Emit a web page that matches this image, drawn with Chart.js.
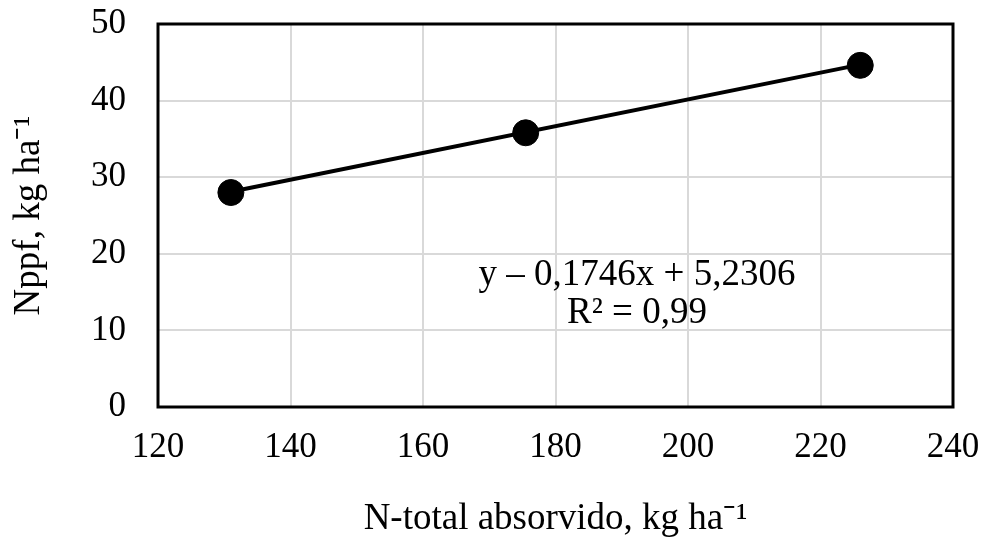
<!DOCTYPE html>
<html>
<head>
<meta charset="utf-8">
<script src="https://cdn.jsdelivr.net/npm/chart.js@4"></script>
<style>
  body { margin: 0; background: #fff; }
  #wrap { width: 985px; height: 543px; }
</style>
</head>
<body>
<div id="wrap"><canvas id="grafico"></canvas></div>
<script>
// dados
const nTotal = [131, 175.5, 226];
const nppf = [28, 35.8, 44.6];
const trendX = [131, 226];
const trendY = [28.1, 44.7];
const xTicks = [120, 140, 160, 180, 200, 220, 240];
const yTicks = [0, 10, 20, 30, 40, 50];
const equacao = ['y \u2013 0,1746x + 5,2306', 'R\u00b2 = 0,99'];

const serif = '"Liberation Serif", "Times New Roman", serif';

const moldura = {
    id: 'moldura',
    afterDatasetsDraw(chart) {
        const a = chart.chartArea;
        const ctx = chart.ctx;
        ctx.save();
        ctx.strokeStyle = '#000';
        ctx.lineWidth = 3;
        ctx.strokeRect(a.left, a.top, a.right - a.left, a.bottom - a.top);
        // equacao da reta
        const x = chart.scales.x.getPixelForValue(192.3);
        ctx.fillStyle = '#000';
        ctx.font = '37px ' + serif;
        ctx.textAlign = 'center';
        ctx.textBaseline = 'middle';
        ctx.fillText(equacao[0], x, chart.scales.y.getPixelForValue(17.2));
        ctx.fillText(equacao[1], x, chart.scales.y.getPixelForValue(12.3));
        ctx.restore();
    }
};

document.addEventListener("DOMContentLoaded", function() {
    const ctx = document.getElementById('grafico').getContext('2d');
    new Chart(ctx, {
        type: 'scatter',
        data: {
            datasets: [{
                label: 'Tendencia',
                data: trendX.map((x, i) => ({x: x, y: trendY[i]})),
                showLine: true,
                borderColor: '#000',
                borderWidth: 4,
                pointRadius: 0,
                order: 2
            }, {
                label: 'Nppf',
                data: nTotal.map((x, i) => ({x: x, y: nppf[i]})),
                backgroundColor: '#000',
                borderColor: '#000',
                pointRadius: 13,
                order: 1
            }]
        },
        options: {
            responsive: true,
            maintainAspectRatio: false,
            animation: false,
            layout: { padding: { top: 24, right: 32, left: 0, bottom: 0 } },
            plugins: {
                legend: { display: false },
                tooltip: { enabled: false }
            },
            scales: {
                x: {
                    type: 'linear',
                    min: 120,
                    max: 240,
                    afterBuildTicks: s => { s.ticks = xTicks.map(v => ({value: v})); },
                    afterFit: s => { s.height = 136; s.paddingLeft = 0; s.paddingRight = 0; },
                    grid: { color: '#d9d9d9', lineWidth: 2, drawTicks: false },
                    border: { display: false },
                    ticks: { color: '#000', padding: 20, font: { family: serif, size: 35 } },
                    title: {
                        display: true,
                        text: 'N-total absorvido, kg ha\u207b\u00b9',
                        color: '#000',
                        font: { family: serif, size: 37 },
                        padding: { top: 0, bottom: 2 }
                    }
                },
                y: {
                    min: 0,
                    max: 50,
                    afterBuildTicks: s => { s.ticks = yTicks.map(v => ({value: v})); },
                    afterFit: s => { s.width = 158; s.paddingTop = 0; s.paddingBottom = 0; },
                    grid: { color: '#d9d9d9', lineWidth: 2, drawTicks: false },
                    border: { display: false },
                    ticks: { color: '#000', padding: 32, font: { family: serif, size: 35 } },
                    title: {
                        display: true,
                        text: 'Nppf, kg ha\u207b\u00b9',
                        color: '#000',
                        font: { family: serif, size: 37 },
                        padding: { top: 7, bottom: 4 }
                    }
                }
            }
        },
        plugins: [moldura]
    });
});
</script>
</body>
</html>
